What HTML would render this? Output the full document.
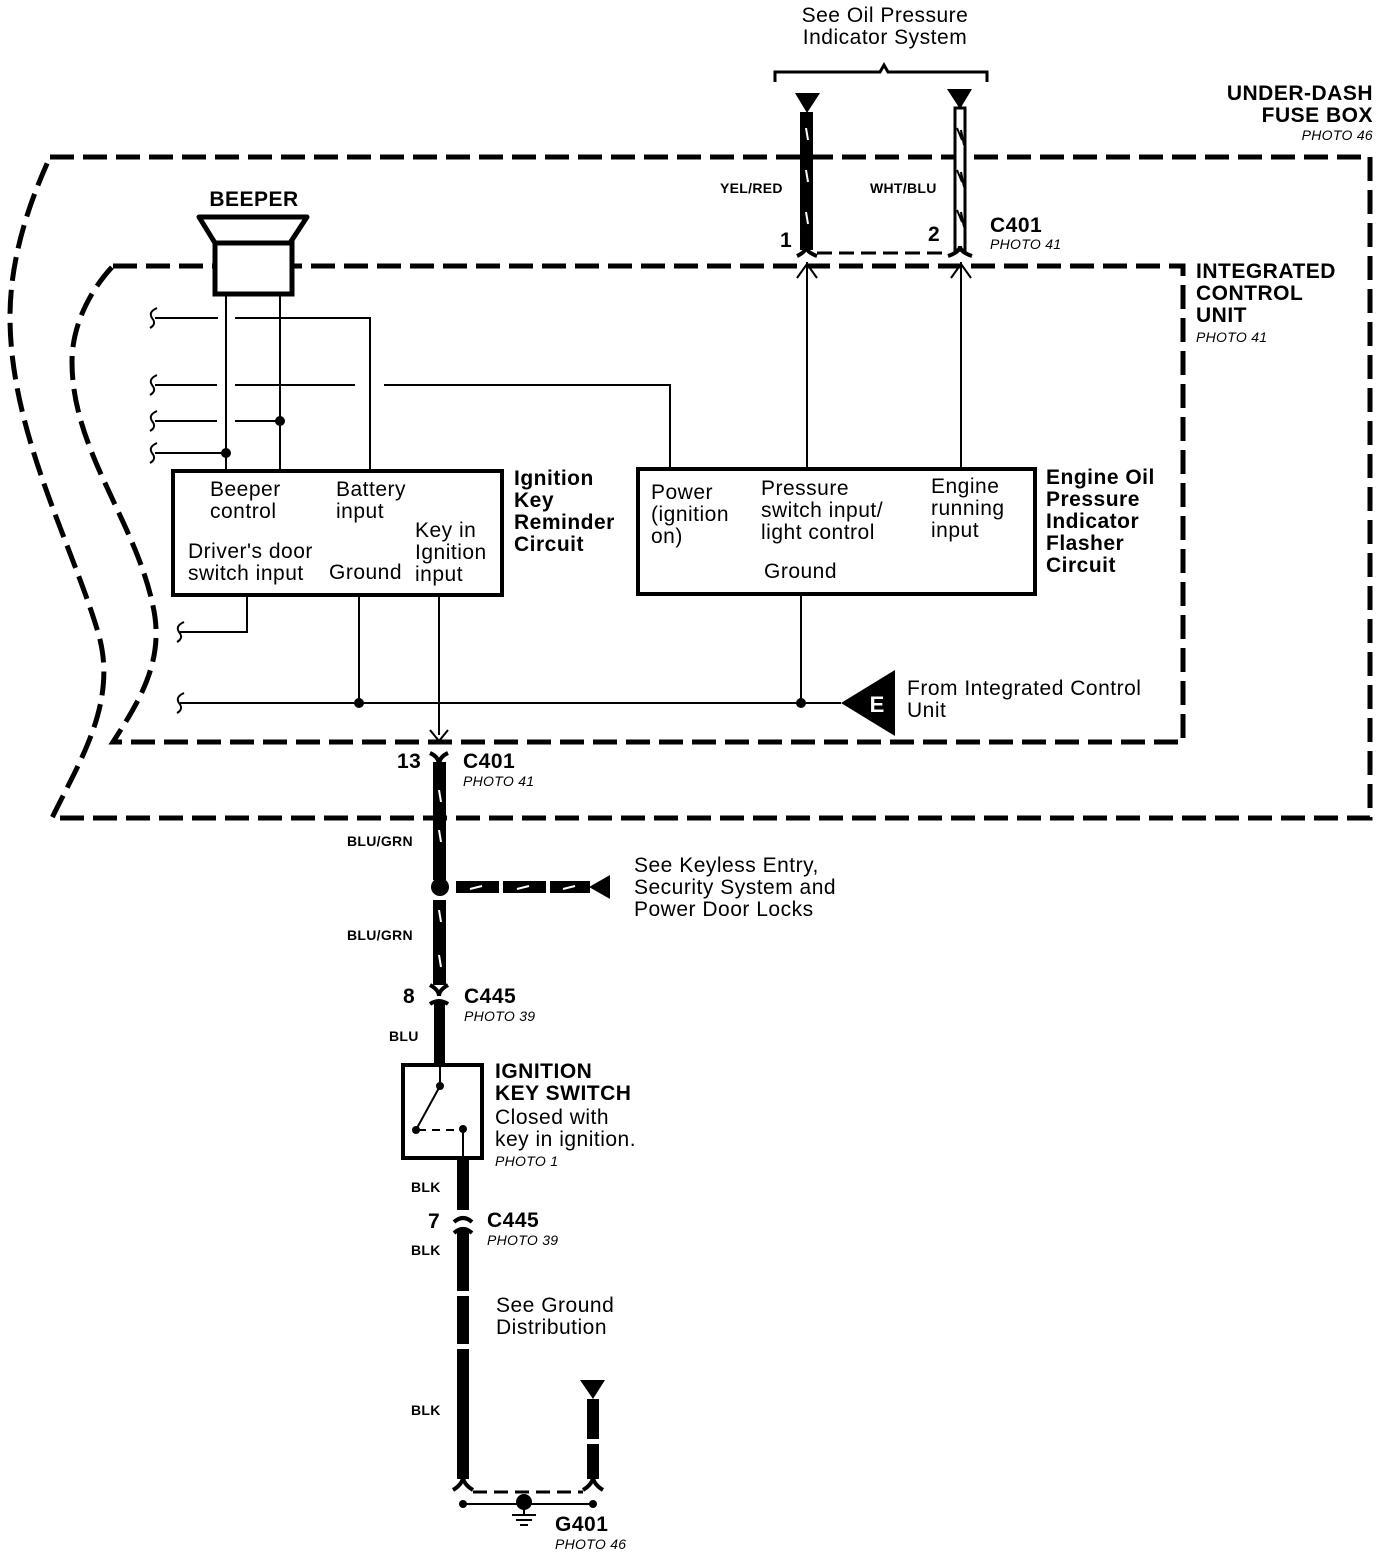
<!DOCTYPE html>
<html><head><meta charset="utf-8"><style>
html,body{margin:0;padding:0;background:#fff}
svg{display:block}
text{font-family:"Liberation Sans",sans-serif;fill:#000}
.b{font-weight:bold;font-size:21px;letter-spacing:0.5px}
.t{font-size:21px;letter-spacing:0.5px}
.s{font-weight:bold;font-size:14px;letter-spacing:0.3px}
.p{font-style:italic;font-size:14px;letter-spacing:0.3px}
</style></head><body>
<svg width="1392" height="1556" viewBox="0 0 1392 1556" xmlns="http://www.w3.org/2000/svg">
<g fill="none" stroke="#000">
<path d="M50,157 L1370,157 L1370,818 L52,818 C80,760 120,700 97,629 C70,540 10,430 10,317 C10,250 35,190 50,157" stroke-width="5" stroke-dasharray="24,9"/>
<path d="M113,266 L1183,266 L1183,742 L113,742 C140,700 165,660 153,606 C135,520 72,450 72,362 C72,320 95,285 113,266" stroke-width="5" stroke-dasharray="24,9"/>
</g>
<path d="M775,82 L775,72 L880,72 L884,65 L888,72 L987,72 L987,82" fill="none" stroke="#000" stroke-width="3"/>
<text class="t" x="885" y="22" text-anchor="middle">See Oil Pressure</text>
<text class="t" x="885" y="44" text-anchor="middle">Indicator System</text>
<polygon points="795,93 820,93 807,113" fill="#000"/>
<rect x="800" y="112" width="13" height="138" fill="#000"/>
<g stroke="#fff" stroke-width="2"><line x1="806" y1="128" x2="808" y2="140"/><line x1="806" y1="170" x2="808" y2="182"/><line x1="806" y1="212" x2="808" y2="224"/></g>
<path d="M797,256 Q806,252 806,246 Q806,252 817,256" fill="none" stroke="#000" stroke-width="4"/>
<polygon points="947,89 972,89 960,109" fill="#000"/>
<rect x="955" y="108" width="10" height="142" fill="#fff" stroke="#000" stroke-width="3"/>
<g stroke="#000" stroke-width="2" fill="none"><path d="M957,128 L962,140 L961,130 L964,145"/><path d="M957,170 L962,182 L961,172 L964,187"/><path d="M957,210 L962,222 L961,212 L964,227"/></g>
<path d="M948,256 Q960,252 960,246 Q960,252 972,256" fill="none" stroke="#000" stroke-width="4"/>
<line x1="817" y1="253" x2="948" y2="253" stroke="#000" stroke-width="3" stroke-dasharray="15,7"/>
<text class="s" x="720" y="193">YEL/RED</text>
<text class="s" x="870" y="193">WHT/BLU</text>
<text class="b" x="780" y="247">1</text>
<text class="b" x="928" y="241">2</text>
<text class="b" x="990" y="232">C401</text>
<text class="p" x="990" y="249">PHOTO 41</text>
<g stroke="#000" stroke-width="2" fill="none">
<line x1="807" y1="262" x2="807" y2="471"/><path d="M797,278 L807,264 L817,278"/>
<line x1="961" y1="262" x2="961" y2="471"/><path d="M951,278 L961,264 L971,278"/>
</g>
<text class="b" x="1373" y="100" text-anchor="end">UNDER-DASH</text>
<text class="b" x="1373" y="122" text-anchor="end">FUSE BOX</text>
<text class="p" x="1373" y="140" text-anchor="end">PHOTO 46</text>
<text class="b" x="1196" y="278">INTEGRATED</text>
<text class="b" x="1196" y="300">CONTROL</text>
<text class="b" x="1196" y="322">UNIT</text>
<text class="p" x="1196" y="342">PHOTO 41</text>
<text class="b" x="254" y="206" text-anchor="middle">BEEPER</text>
<path d="M199,217 L307,217 L290,243 L215,243 Z" fill="#fff" stroke="#000" stroke-width="5" stroke-linejoin="round"/>
<rect x="215" y="243" width="77" height="51" fill="#fff" stroke="#000" stroke-width="5"/>
<g stroke="#000" stroke-width="2" fill="none">
<line x1="226" y1="294" x2="226" y2="471"/>
<line x1="280" y1="294" x2="280" y2="471"/>
<path d="M155,318 L218,318 M235,318 L370,318 L370,471"/>
<path d="M155,385 L217,385 M235,385 L355,385 M384,385 L670,385 L670,469"/>
<path d="M155,421 L217,421 M235,421 L280,421"/>
<path d="M155,453 L226,453"/>
<path d="M180,632 L247,632 L247,595"/>
<path d="M180,703 L841,703"/>
<line x1="359" y1="595" x2="359" y2="703"/>
<line x1="439" y1="595" x2="439" y2="735"/>
<line x1="801" y1="594" x2="801" y2="703"/>
</g>
<g fill="#000"><circle cx="280" cy="421" r="5"/><circle cx="226" cy="453" r="5"/><circle cx="359" cy="703" r="5"/><circle cx="801" cy="703" r="5"/></g>
<g stroke="#000" stroke-width="2" fill="none">
<path d="M157,308 Q148,312 152,318 Q157,324 150,328"/>
<path d="M157,375 Q148,379 152,385 Q157,391 150,395"/>
<path d="M157,411 Q148,415 152,421 Q157,427 150,431"/>
<path d="M157,443 Q148,447 152,453 Q157,459 150,463"/>
<path d="M184,622 Q175,626 179,632 Q184,638 177,642"/>
<path d="M184,693 Q175,697 179,703 Q184,709 177,713"/>
</g>
<polygon points="841,703 895,670 895,736" fill="#000"/>
<text x="877" y="712" font-size="22" font-weight="bold" style="fill:#fff" text-anchor="middle">E</text>
<text class="t" x="907" y="695">From Integrated Control</text>
<text class="t" x="907" y="717">Unit</text>
<rect x="173" y="471" width="329" height="124" fill="none" stroke="#000" stroke-width="4"/>
<rect x="638" y="469" width="397" height="125" fill="none" stroke="#000" stroke-width="4"/>
<text class="t" x="210" y="496">Beeper</text><text class="t" x="210" y="518">control</text>
<text class="t" x="336" y="496">Battery</text><text class="t" x="336" y="518">input</text>
<text class="t" x="415" y="537">Key in</text><text class="t" x="415" y="559">Ignition</text><text class="t" x="415" y="581">input</text>
<text class="t" x="188" y="558">Driver's door</text><text class="t" x="188" y="580">switch input</text>
<text class="t" x="329" y="579">Ground</text>
<text class="t" x="651" y="499">Power</text><text class="t" x="651" y="521">(ignition</text><text class="t" x="651" y="543">on)</text>
<text class="t" x="761" y="495">Pressure</text><text class="t" x="761" y="517">switch input/</text><text class="t" x="761" y="539">light control</text>
<text class="t" x="931" y="493">Engine</text><text class="t" x="931" y="515">running</text><text class="t" x="931" y="537">input</text>
<text class="t" x="764" y="578">Ground</text>
<text class="b" x="514" y="485">Ignition</text><text class="b" x="514" y="507">Key</text><text class="b" x="514" y="529">Reminder</text><text class="b" x="514" y="551">Circuit</text>
<text class="b" x="1046" y="484">Engine Oil</text><text class="b" x="1046" y="506">Pressure</text><text class="b" x="1046" y="528">Indicator</text><text class="b" x="1046" y="550">Flasher</text><text class="b" x="1046" y="572">Circuit</text>
<path d="M430,730 L439,741 L448,730" fill="none" stroke="#000" stroke-width="2"/>
<path d="M430,753 Q439,757 439,765 Q439,757 448,753" fill="none" stroke="#000" stroke-width="4"/>
<rect x="433" y="762" width="13" height="118" fill="#000"/>
<circle cx="440" cy="887" r="9" fill="#000"/>
<rect x="433" y="900" width="13" height="85" fill="#000"/>
<g stroke="#fff" stroke-width="2"><line x1="439" y1="790" x2="441" y2="802"/><line x1="439" y1="830" x2="441" y2="842"/><line x1="439" y1="910" x2="441" y2="922"/><line x1="439" y1="955" x2="441" y2="967"/></g>
<path d="M430,985 Q439,990 439,996 Q439,990 448,985" fill="none" stroke="#000" stroke-width="4"/>
<path d="M430,1004 Q439,998 448,1004" fill="none" stroke="#000" stroke-width="4"/>
<text class="b" x="397" y="768">13</text>
<text class="b" x="463" y="768">C401</text><text class="p" x="463" y="786">PHOTO 41</text>
<text class="s" x="347" y="846">BLU/GRN</text><text class="s" x="347" y="940">BLU/GRN</text>
<g fill="#000"><rect x="456" y="881" width="43" height="12"/><rect x="503" y="881" width="43" height="12"/><rect x="550" y="881" width="40" height="12"/><polygon points="589,887 610,875 610,899"/></g>
<g stroke="#fff" stroke-width="2"><line x1="470" y1="889" x2="482" y2="886"/><line x1="517" y1="889" x2="529" y2="886"/><line x1="563" y1="889" x2="575" y2="886"/></g>
<text class="t" x="634" y="872">See Keyless Entry,</text><text class="t" x="634" y="894">Security System and</text><text class="t" x="634" y="916">Power Door Locks</text>
<text class="b" x="403" y="1003">8</text>
<text class="b" x="464" y="1003">C445</text><text class="p" x="464" y="1021">PHOTO 39</text>
<text class="s" x="389" y="1041">BLU</text>
<rect x="434" y="1003" width="11" height="62" fill="#000"/>
<rect x="403" y="1065" width="79" height="93" fill="none" stroke="#000" stroke-width="4"/>
<g stroke="#000" stroke-width="2" fill="none"><line x1="440" y1="1065" x2="440" y2="1085"/><line x1="440" y1="1086" x2="417" y2="1128"/><line x1="418" y1="1130" x2="457" y2="1130" stroke-dasharray="8,6"/><line x1="463" y1="1130" x2="463" y2="1158"/></g>
<g fill="#000"><circle cx="440" cy="1086" r="4"/><circle cx="416" cy="1130" r="4"/><circle cx="463" cy="1129" r="4"/></g>
<text class="b" x="495" y="1078">IGNITION</text><text class="b" x="495" y="1100">KEY SWITCH</text>
<text class="t" x="495" y="1124">Closed with</text><text class="t" x="495" y="1146">key in ignition.</text>
<text class="p" x="495" y="1166">PHOTO 1</text>
<rect x="457" y="1158" width="12" height="52" fill="#000"/>
<path d="M454,1222 Q463,1214 472,1222" fill="none" stroke="#000" stroke-width="4"/>
<path d="M454,1233 Q463,1225 472,1233" fill="none" stroke="#000" stroke-width="4"/>
<rect x="457" y="1230" width="12" height="61" fill="#000"/>
<rect x="457" y="1296" width="12" height="48" fill="#000"/>
<rect x="457" y="1349" width="12" height="130" fill="#000"/>
<path d="M453,1490 Q463,1484 463,1476 Q463,1484 473,1490" fill="none" stroke="#000" stroke-width="4"/>
<text class="s" x="411" y="1192">BLK</text>
<text class="b" x="428" y="1228">7</text>
<text class="b" x="487" y="1227">C445</text><text class="p" x="487" y="1245">PHOTO 39</text>
<text class="s" x="411" y="1255">BLK</text>
<text class="t" x="496" y="1312">See Ground</text><text class="t" x="496" y="1334">Distribution</text>
<text class="s" x="411" y="1415">BLK</text>
<polygon points="580,1380 605,1380 593,1399" fill="#000"/>
<rect x="587" y="1399" width="12" height="40" fill="#000"/>
<rect x="587" y="1444" width="12" height="35" fill="#000"/>
<path d="M583,1490 Q593,1484 593,1476 Q593,1484 603,1490" fill="none" stroke="#000" stroke-width="4"/>
<line x1="473" y1="1492" x2="583" y2="1492" stroke="#000" stroke-width="3" stroke-dasharray="14,7"/>
<line x1="463" y1="1504" x2="593" y2="1504" stroke="#000" stroke-width="2"/>
<g fill="#000"><circle cx="463" cy="1504" r="4"/><circle cx="593" cy="1504" r="4"/><circle cx="524" cy="1502" r="8"/></g>
<g stroke="#000" stroke-width="2"><line x1="524" y1="1502" x2="524" y2="1514"/><line x1="512" y1="1515" x2="536" y2="1515"/><line x1="516" y1="1520" x2="532" y2="1520"/><line x1="520" y1="1525" x2="528" y2="1525"/></g>
<text class="b" x="555" y="1531">G401</text><text class="p" x="555" y="1549">PHOTO 46</text>
</svg>
</body></html>
